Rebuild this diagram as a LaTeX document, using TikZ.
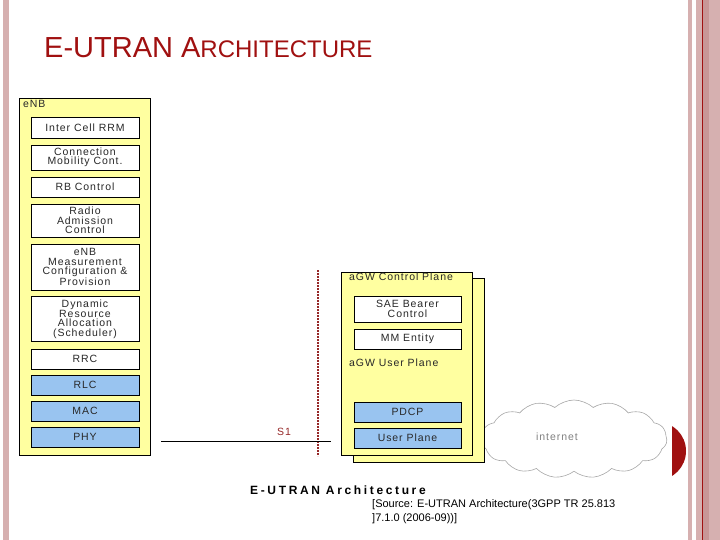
\documentclass[tikz,border=0pt]{standalone}
\usepackage{fontspec}
\setmainfont{Liberation Sans}
\newfontfamily\boxfont[LetterSpace=9]{Liberation Sans}
\newfontfamily\capfont[LetterSpace=22]{Liberation Sans}
\usetikzlibrary{shapes.symbols}
\definecolor{slidered}{RGB}{160,16,16}
\definecolor{barpink}{RGB}{214,176,176}
\definecolor{bardark}{RGB}{200,150,150}
\definecolor{boxyellow}{RGB}{255,255,160}
\definecolor{boxblue}{RGB}{153,196,240}
\definecolor{textgray}{RGB}{40,40,40}
\definecolor{s1red}{RGB}{150,40,40}
\begin{document}
\begin{tikzpicture}[x=1pt,y=-1pt,
        layer/.style={draw,line width=0.8pt,fill=white,minimum width=108,inner sep=0,align=center,
            text=textgray,font=\boxfont\fontsize{10.5}{9.4}\selectfont},
        bluelayer/.style={layer,fill=boxblue},
        plane/.style={draw,line width=0.8pt,fill=boxyellow,inner sep=0},
        tag/.style={anchor=west,inner sep=0,text=textgray,font=\boxfont\fontsize{10.5}{12}\selectfont}]
    \useasboundingbox (0,0) rectangle (720,540);
    % slide frame
    \fill [barpink] (3,0) rectangle (9,540);
    \fill [barpink] (688,0) rectangle (692,540);
    \fill [barpink] (696,0) rectangle (720,540);
    \fill [bardark] (703,0) rectangle (709,540);
    \draw [slidered,line width=1pt] (702.5,0)--(702.5,540);
    \begin{scope}
        \clip (672,420) rectangle (700,480);
        \fill [slidered] (656.7,451) circle (29.3);
    \end{scope}
    \node [anchor=base west,inner sep=0,text=slidered] (title) at (44,58)
        {\fontsize{29}{30}\selectfont E-UTRAN A\fontsize{24}{24}\selectfont RCHITECTURE};

    % eNB
    \node [plane,minimum width=131,minimum height=357] (enb) at (84.5,276.5) {};
    \node [tag] (enblabel) at (23,104) {eNB};
    \node [layer,minimum height=21] (rrm) at (85,127.5) {Inter Cell RRM};
    \node [layer,minimum height=25] (cmc) at (85,157.5) {Connection\\Mobility Cont.};
    \node [layer,minimum height=20] (rbc) at (85,187) {RB Control};
    \node [layer,minimum height=33] (rac) at (85,220.5) {Radio\\Admission\\Control};
    \node [layer,minimum height=46] (meas) at (85,267) {eNB\\Measurement\\Configuration \&\\Provision};
    \node [layer,minimum height=45] (dra) at (85,319) {Dynamic\\Resource\\Allocation\\(Scheduler)};
    \node [layer,minimum height=20] (rrc) at (85,359) {RRC};
    \node [bluelayer,minimum height=20] (rlc) at (85,385) {RLC};
    \node [bluelayer,minimum height=20] (mac) at (85,411) {MAC};
    \node [bluelayer,minimum height=20] (phy) at (85,437) {PHY};

    % internet
    \node [cloud,cloud puffs=15,cloud puff arc=85,cloud ignores aspect,draw=gray!70,line width=0.6pt,
        minimum width=186,minimum height=78,inner sep=0] (inet) at (574,439) {};
    \node [text=gray,font=\boxfont\fontsize{10.5}{12}\selectfont] (inetlabel) at (557,437) {internet};

    % aGW
    \node [plane,minimum width=131,minimum height=184] (agwback) at (418.5,370) {};
    \node [plane,minimum width=131,minimum height=183] (agw) at (406.5,363.5) {};
    \node [tag] (cplabel) at (349,277) {aGW Control Plane};
    \node [layer,minimum width=107,minimum height=26] (sae) at (407.5,309) {SAE Bearer\\Control};
    \node [layer,minimum width=107,minimum height=20] (mme) at (407.5,339) {MM Entity};
    \node [tag] (uplabel) at (349,363) {aGW User Plane};
    \node [bluelayer,minimum width=107,minimum height=20] (pdcp) at (407.5,412) {PDCP};
    \node [bluelayer,minimum width=107,minimum height=20] (uplane) at (407.5,438) {User Plane};

    % S1
    \coordinate (reftop) at (318,270);
    \coordinate (refbot) at (318,456);
    \draw [s1red,line width=2.4pt,dash pattern=on 2pt off 1pt] (reftop)--(refbot);
    \coordinate (s1w) at (161,441);
    \coordinate (s1e) at (331,441);
    \draw [line width=0.9pt] (s1w)--(s1e);
    \node [text=s1red,font=\boxfont\fontsize{10.5}{12}\selectfont] (s1) at (284,432) {S1};

    % caption
    \node [anchor=base west,inner sep=0,font=\capfont\bfseries\fontsize{12}{14}\selectfont] (caption) at (250,494) {E-UTRAN Architecture};
    \node [anchor=north west,inner sep=0,align=left,font=\fontsize{11}{14}\selectfont] (source) at (372,499.5)
        {[Source: E-UTRAN Architecture(3GPP TR 25.813\\]7.1.0 (2006-09))]};
\end{tikzpicture}
\end{document}
